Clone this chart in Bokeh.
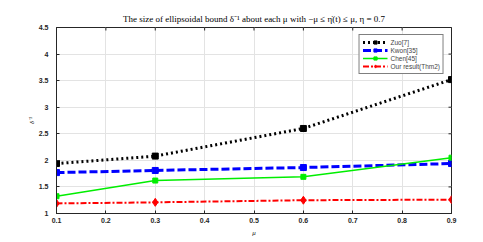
import math
from bokeh.plotting import figure
from bokeh.models import Range1d, Legend, LegendItem, Title, FixedTicker
from bokeh.embed import file_html
from bokeh.resources import INLINE

mu = [0.1, 0.3, 0.6, 0.9]
zuo = [1.94, 2.08, 2.60, 3.52]
kwon = [1.77, 1.81, 1.865, 1.94]
chen = [1.325, 1.62, 1.69, 2.05]
ours = [1.19, 1.21, 1.25, 1.26]

x_ticks = [0.1, 0.2, 0.3, 0.4, 0.5, 0.6, 0.7, 0.8, 0.9]
y_ticks = [1, 1.5, 2, 2.5, 3, 3.5, 4, 4.5]
x_lo, x_hi = 0.1, 0.9
y_lo, y_hi = 1, 4.5

title_text = "The size of ellipsoidal bound δ\u207b\u00b9 about each μ with \u2212μ \u2264 η\u0307(t) \u2264 μ, η = 0.7"

p = figure(width=480, height=240, output_backend="svg", toolbar_location=None,
           x_range=Range1d(x_lo, x_hi), y_range=Range1d(y_lo, y_hi),
           min_border_left=56, min_border_right=29, min_border_bottom=27, min_border_top=27)
p.title = Title(text=title_text, text_font="Liberation Serif", text_font_size="9px",
                text_font_style="normal", text_color="black", align="center",
                offset=0, standoff=7)
p.outline_line_color = "#262626"
p.outline_line_width = 1

for ax in (p.xaxis[0], p.yaxis[0]):
    ax.major_tick_in = 3
    ax.major_tick_out = 0
    ax.minor_tick_line_color = None
    ax.major_label_text_font = "Liberation Sans"
    ax.major_label_text_font_size = "7px"
    ax.major_label_text_font_style = "bold"
    ax.major_label_text_color = "#262626"
    ax.axis_line_color = "#262626"
    ax.major_tick_line_color = "#262626"
    ax.axis_label_text_font = "Liberation Serif"
    ax.axis_label_text_font_size = "7px"
    ax.axis_label_text_font_style = "italic"
    ax.axis_label_text_color = "#262626"

p.xaxis[0].ticker = FixedTicker(ticks=x_ticks)
p.yaxis[0].ticker = FixedTicker(ticks=y_ticks)
p.xaxis[0].major_label_standoff = 4
p.yaxis[0].major_label_standoff = 8
p.xaxis[0].axis_label = "μ"
p.yaxis[0].axis_label = "δ\u207b\u00b9"
p.xaxis[0].axis_label_standoff = 3
p.yaxis[0].axis_label_standoff = 0

p.xgrid.ticker = FixedTicker(ticks=x_ticks)
p.ygrid.ticker = FixedTicker(ticks=y_ticks)
p.grid.grid_line_color = "#e3e3e3"
p.grid.grid_line_width = 1

# inward tick marks on the top and right frame edges (clipped to the frame)
p.scatter(x_ticks, [y_hi] * len(x_ticks), marker="dash", angle=math.pi / 2, size=6,
          line_color="#262626", line_width=1)
p.scatter([x_hi] * len(y_ticks), y_ticks, marker="dash", size=6,
          line_color="#262626", line_width=1)

r1 = p.line(mu, zuo, line_color="black", line_width=3, line_dash="2 3")
m1 = p.scatter(mu, zuo, marker="square", size=6, color="black")
r2 = p.line(mu, kwon, line_color="#0000ff", line_width=3, line_dash="8 3")
m2 = p.scatter(mu, kwon, marker="square", size=6, color="#0000ff")
r3 = p.line(mu, chen, line_color="#00ee00", line_width=1.5)
m3 = p.scatter(mu, chen, marker="square", size=5, color="#00ee00")
r4 = p.line(mu, ours, line_color="#ff0000", line_width=2, line_dash="6 2 2 2")
m4 = p.scatter(mu, ours, marker="diamond", size=8, fill_color="#ff0000", line_color="#ff0000")

legend = Legend(items=[
    LegendItem(label="Zuo[7]", renderers=[r1, m1]),
    LegendItem(label="Kwon[35]", renderers=[r2, m2]),
    LegendItem(label="Chen[45]", renderers=[r3, m3]),
    LegendItem(label="Our result(Thm2)", renderers=[r4, m4]),
], location="top_right")
legend.label_text_font = "Liberation Sans"
legend.label_text_font_size = "6.5px"
legend.label_height = 8
legend.glyph_height = 8
legend.glyph_width = 25
legend.spacing = 0
legend.padding = 3
legend.margin = 7
legend.label_standoff = 3
legend.border_line_color = "black"
legend.border_line_width = 1
legend.background_fill_alpha = 1
p.add_layout(legend)

open("out.html", "w").write(file_html(p, INLINE))
